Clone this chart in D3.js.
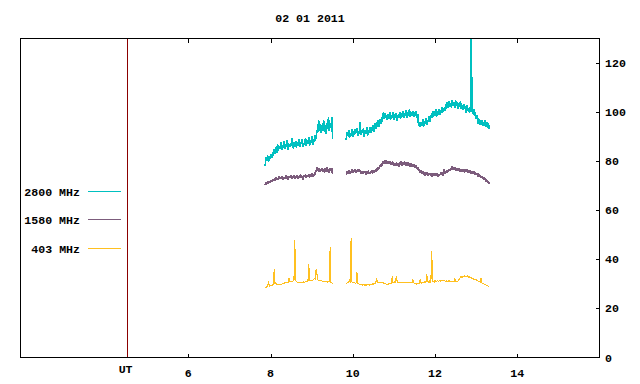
<!DOCTYPE html>
<html><head><meta charset="utf-8">
<script src="https://cdn.jsdelivr.net/npm/d3@7"></script>
<style>
html,body{margin:0;padding:0;background:#fff;}
svg{display:block;}
text{font-family:"Liberation Mono","DejaVu Sans Mono",monospace;font-weight:bold;font-size:11.6px;fill:#000;}
</style></head>
<body>
<svg id="chart" width="640" height="384"></svg>
<script>
// ---- data ----
const title = "02 01 2011";
const xTicks = [6, 8, 10, 12, 14];
const yTicks = [0, 20, 40, 60, 80, 100, 120];
const utMarker = 4.5;
const xDomain = [1.92, 16];
const yDomain = [0, 130];
const sampleStep = 0.02;           // hours between samples
const seg1Start = 7.87, seg2Start = 9.84;
const seriesNames = ["2800 MHz", "1580 MHz", "403 MHz"];
const seriesColors = ["#00c0c0", "#7c5c7c", "#ffc020"];

const mhz2800_a = [78.2,81.5,80.0,82.3,79.6,81.9,80.8,83.0,81.4,83.6,
  82.0,84.8,83.1,85.6,83.5,86.9,84.4,86.0,84.9,87.8,
  84.6,86.7,85.3,88.2,85.0,87.1,85.9,88.6,84.7,86.8,
  85.8,87.5,86.3,89.4,85.2,87.2,86.0,88.3,85.4,87.9,
  86.4,88.8,85.7,87.6,86.9,89.1,85.8,87.4,86.6,89.6,
  86.2,88.3,87.0,89.9,86.4,88.6,87.3,90.1,86.8,88.9,
  88.0,90.6,89.2,92.8,92.0,96.6,92.4,95.1,91.5,94.8,
  92.2,96.9,92.0,94.9,91.2,95.6,93.0,97.8,92.5,95.2,
  93.4,98.0,89.0];
const mhz2800_b = [88.6,91.8,90.2,92.6,89.4,91.2,90.5,93.0,89.8,92.1,
  90.6,92.9,91.4,93.6,90.2,92.4,91.0,95.8,90.8,92.7,
  91.6,93.4,89.9,92.2,91.3,93.8,90.4,92.6,91.7,94.0,
  91.5,93.9,92.4,94.8,92.0,95.6,93.2,96.0,94.1,96.8,
  94.0,97.2,95.3,97.8,96.0,99.8,97.2,99.5,97.6,98.9,
  96.8,99.3,97.4,99.9,96.9,98.6,97.8,100.2,97.0,99.0,
  97.5,99.6,96.4,98.8,97.9,100.0,97.3,99.4,98.2,100.5,
  97.6,99.7,98.4,100.8,97.8,99.9,98.6,101.2,98.0,100.1,
  98.3,100.6,97.9,99.8,98.5,100.4,97.6,99.2,94.2,96.0,
  93.8,95.9,94.6,97.0,93.9,96.3,95.1,97.6,94.8,96.9,
  95.9,98.4,96.2,98.8,97.6,100.4,98.1,100.6,98.4,101.2,
  98.2,100.3,99.0,101.4,98.8,100.9,99.6,102.2,99.9,101.8,
  100.6,103.1,101.2,104.0,101.6,104.6,102.0,103.8,101.8,105.0,
  102.4,104.2,101.9,104.8,102.6,104.1,101.5,103.6,102.2,104.4,
  101.3,103.0,100.9,103.4,101.2,102.6,99.8,102.9,100.4,101.8,
  99.6,102.0,132,100.6,99.2,101.4,98.6,100.0,97.2,98.8,
  95.4,97.4,94.8,96.6,95.0,96.9,94.2,96.0,94.6,96.8,
  94.0,95.9,93.6,95.4,93.0];
const mhz1580_a = [70.2,71.4,70.6,71.8,70.9,72.0,71.2,72.4,71.5,72.6,
  71.9,72.8,72.2,73.4,72.4,73.1,72.6,73.8,72.7,73.6,
  72.9,74.0,72.6,73.5,72.8,74.1,73.0,73.7,72.5,73.9,
  73.1,74.2,72.8,73.6,73.2,74.4,72.9,73.8,73.3,74.3,
  72.8,73.9,73.1,74.5,73.3,74.0,72.6,74.2,73.5,74.6,
  73.2,74.3,73.6,74.8,73.4,74.5,73.7,74.9,73.6,74.4,
  74.3,75.4,75.8,77.4,76.0,77.2,75.5,76.8,75.9,77.3,
  75.6,76.7,75.4,77.0,75.8,77.5,75.7,76.9,75.3,77.2,
  75.9,77.0,74.6];
const mhz1580_b = [74.6,75.9,75.0,76.2,74.8,75.7,75.4,76.6,75.3,76.4,
  75.6,76.8,75.2,76.3,75.7,76.9,75.5,76.5,75.0,76.1,
  74.9,76.0,75.3,75.9,74.6,75.8,74.9,76.2,74.7,75.6,
  75.1,76.3,74.9,76.1,75.4,76.5,75.8,77.0,76.2,77.6,
  76.8,78.4,77.6,79.2,78.3,79.9,78.8,80.2,78.9,80.4,
  79.0,80.1,78.8,80.0,78.6,79.7,78.4,79.8,78.1,79.2,
  78.0,79.4,78.2,79.3,77.9,79.5,78.4,79.9,78.3,79.6,
  78.5,80.0,78.2,79.4,78.0,79.6,78.3,79.2,77.9,79.0,
  77.6,78.8,77.8,78.6,77.2,78.4,76.8,77.6,76.0,76.8,
  75.2,76.3,74.8,76.0,74.6,75.5,74.2,75.4,74.5,75.3,
  74.0,75.2,74.3,75.0,73.8,75.1,74.2,74.9,73.9,75.2,
  74.1,75.0,73.7,74.8,74.3,75.4,74.4,75.3,74.0,76.8,
  74.9,75.8,75.2,76.4,75.6,76.9,76.0,77.3,76.4,77.8,
  76.5,77.6,76.3,77.4,76.2,77.2,76.0,77.1,75.8,76.9,
  75.6,76.8,75.9,76.6,75.4,76.5,75.8,76.7,75.3,76.4,
  75.2,76.3,74.9,76.0,75.1,75.9,74.6,75.6,74.4,75.2,
  73.8,74.9,73.5,74.4,73.2,74.0,72.8,73.5,72.4,73.0,
  71.8,72.4,71.2,71.6,70.8];
const mhz403_a = [28.4,28.8,28.6,29.0,31.2,28.9,29.1,29.3,29.2,29.5,
  29.8,36.0,30.0,30.2,29.9,29.7,29.8,29.6,29.9,29.8,
  29.9,30.1,30.2,30.4,30.3,30.5,30.6,30.4,30.7,32.5,
  30.8,30.9,31.1,31.0,31.2,31.3,47.9,31.4,31.0,30.7,
  30.6,30.5,30.4,30.5,30.6,30.5,30.7,30.8,30.7,30.9,
  30.8,31.0,30.9,38.1,31.2,31.3,31.5,31.4,31.6,31.7,
  32.2,31.8,36.1,34.0,31.6,31.4,31.3,31.2,31.4,31.2,
  31.1,31.0,30.9,31.0,30.8,30.9,30.7,30.8,30.9,44.9,
  30.6,30.4,30.1];
const mhz403_b = [30.2,30.3,30.6,30.4,31.8,30.5,48.8,30.7,30.5,30.4,
  30.6,30.3,30.2,34.9,30.3,30.1,29.9,29.7,29.8,29.6,
  29.5,29.7,29.6,29.4,29.6,29.5,29.7,29.6,29.5,29.8,
  29.7,29.9,30.0,29.8,30.2,30.4,30.3,32.5,30.6,30.4,
  30.5,30.6,30.4,30.5,30.6,30.4,30.3,30.1,30.0,29.9,
  29.8,29.9,30.0,30.2,30.1,30.3,33.0,30.5,30.6,30.8,
  30.7,33.3,30.8,30.6,30.5,30.7,30.4,30.6,30.5,30.4,
  30.5,30.6,30.4,30.5,30.6,30.4,30.5,30.6,30.5,30.4,
  30.6,31.9,30.4,30.2,30.1,30.0,29.9,30.2,30.1,30.4,
  31.8,30.5,30.3,30.6,30.4,30.8,31.0,30.6,34.0,30.9,
  30.7,31.3,30.6,31.0,43.4,30.9,31.2,30.6,31.4,30.8,
  31.0,31.6,30.9,31.2,31.4,31.0,31.3,31.5,31.2,31.6,
  31.3,31.0,31.2,30.9,31.1,31.3,30.9,31.0,31.2,30.8,
  31.0,30.9,32.4,31.1,30.8,31.0,31.2,31.6,32.2,32.8,
  33.0,32.6,33.2,32.9,33.4,33.0,33.2,32.8,33.3,32.7,
  32.9,32.5,32.8,32.2,32.4,32.0,31.9,31.6,31.8,31.4,
  31.2,30.9,31.1,30.6,32.4,30.4,30.2,30.0,29.8,29.9,
  29.6,29.4,29.2,29.1,28.9];

// ---- chart ----
const svg = d3.select("#chart");
const L = 20.5, R = 599.5, T = 38.5, B = 357.5;
const x = d3.scaleLinear().domain(xDomain).range([L, R]);
const y = d3.scaleLinear().domain(yDomain).range([B, T]);

svg.append("defs").append("clipPath").attr("id", "clip")
  .append("rect").attr("x", L).attr("y", T).attr("width", R - L).attr("height", B - T);

function toPts(start, vals) { return vals.map((v, i) => [start + i * sampleStep, v]); }
const series = [
  [toPts(seg1Start, mhz2800_a), toPts(seg2Start, mhz2800_b)],
  [toPts(seg1Start, mhz1580_a), toPts(seg2Start, mhz1580_b)],
  [toPts(seg1Start, mhz403_a), toPts(seg2Start, mhz403_b)]
];
const line = d3.line().x(d => x(d[0])).y(d => y(d[1]));

const plot = svg.append("g").attr("clip-path", "url(#clip)");
// UT marker line
plot.append("line").attr("x1", Math.round(x(utMarker)) + 0.5).attr("x2", Math.round(x(utMarker)) + 0.5)
  .attr("y1", T).attr("y2", B).attr("stroke", "#8b0000").attr("stroke-width", 1);

const widths = [1.7, 1.7, 1.1];
series.forEach((segs, si) => {
  segs.forEach(seg => {
    plot.append("path").attr("d", line(seg)).attr("fill", "none")
      .attr("stroke", seriesColors[si]).attr("stroke-width", widths[si])
      .attr("stroke-linejoin", "miter").attr("stroke-miterlimit", 1)
      .attr("shape-rendering", "crispEdges");
  });
});

// border
svg.append("rect").attr("x", L).attr("y", T).attr("width", R - L).attr("height", B - T)
  .attr("fill", "none").attr("stroke", "#000").attr("stroke-width", 1);

// x ticks (bottom inward, top mirrored)
const axg = svg.append("g").attr("stroke", "#000").attr("stroke-width", 1).attr("shape-rendering", "crispEdges");
xTicks.forEach(t => {
  const px = Math.round(x(t)) + 0.5;
  axg.append("line").attr("x1", px).attr("x2", px).attr("y1", B).attr("y2", B - 4);
  axg.append("line").attr("x1", px).attr("x2", px).attr("y1", T).attr("y2", T + 4);
});
svg.selectAll(".xl").data(xTicks).enter().append("text")
  .attr("x", d => x(d)).attr("y", 377).attr("text-anchor", "middle").text(d => d);
svg.append("text").attr("x", x(utMarker) - 1).attr("y", 373).attr("text-anchor", "middle").text("UT");

// y ticks (right axis, inward)
yTicks.forEach(v => {
  const py = Math.round(y(v)) + 0.5;
  if (v > 0) axg.append("line").attr("x1", R).attr("x2", R - 4).attr("y1", py).attr("y2", py);
});
svg.selectAll(".yl").data(yTicks).enter().append("text")
  .attr("x", 605).attr("y", d => y(d) + 4).attr("text-anchor", "start").text(d => d);

// title
svg.append("text").attr("x", (L + R) / 2).attr("y", 22).attr("text-anchor", "middle").text(title);

// legend
const legY = [191.5, 219.5, 248.5];
seriesNames.forEach((n, i) => {
  svg.append("text").attr("x", 80).attr("y", legY[i] + 4).attr("text-anchor", "end").text(n);
  svg.append("line").attr("x1", 88).attr("x2", 121).attr("y1", legY[i]).attr("y2", legY[i])
    .attr("stroke", seriesColors[i]).attr("stroke-width", 1).attr("shape-rendering", "crispEdges");
});
</script>
</body></html>
